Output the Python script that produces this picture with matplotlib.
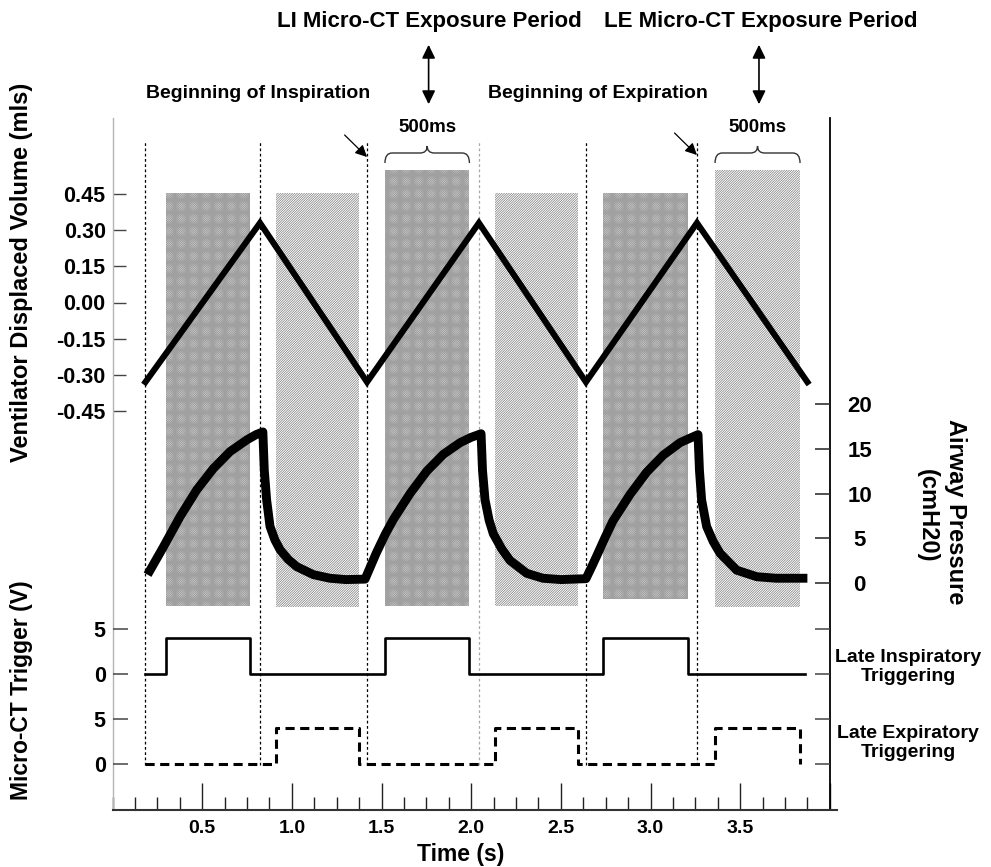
import matplotlib
matplotlib.use("Agg")
import matplotlib.pyplot as plt
from matplotlib import transforms
from matplotlib.patches import FancyArrowPatch, PathPatch
from matplotlib.path import Path
from matplotlib.ticker import FixedLocator, MultipleLocator

plt.rcParams['font.family'] = ['Liberation Sans', 'DejaVu Sans']
plt.rcParams['font.weight'] = 'bold'
plt.rcParams['hatch.linewidth'] = 0.5

# ---------------------------------------------------------------- data
# ventilator phase boundaries (s): alternating start of inspiration / expiration
phase_times = [0.183, 0.822, 1.419, 2.043, 2.640, 3.259]
volume_times = [0.183, 0.822, 1.419, 2.043, 2.640, 3.259, 3.875]
volume_values = [-0.33, 0.33, -0.33, 0.33, -0.33, 0.33, -0.33]   # mls

# micro-CT exposure windows (s)
li_windows = [(0.296, 0.766), (1.519, 1.990), (2.733, 3.210)]
le_windows = [(0.911, 1.376), (2.133, 2.597), (3.360, 3.834)]
trigger_high = 4.0          # V
trigger_start = 0.183       # s
li_trigger_end = 3.862      # s

# airway pressure trace
pressure_t = [0.195, 0.283, 0.376, 0.469, 0.562, 0.655, 0.748, 0.800, 0.838,
              0.846, 0.859, 0.878, 0.905, 0.934, 0.980, 1.027, 1.120, 1.212, 1.300, 1.408,
              1.470, 1.520, 1.566, 1.659, 1.752, 1.845, 1.938, 2.000, 2.055,
              2.063, 2.077, 2.100, 2.123, 2.170, 2.216, 2.310, 2.400, 2.500, 2.640,
              2.670, 2.700, 2.745, 2.790, 2.886, 2.979, 3.071, 3.165, 3.220, 3.265,
              3.273, 3.285, 3.313, 3.350, 3.388, 3.481, 3.593, 3.700, 3.875]
pressure_p = [0.9, 4.0, 7.4, 10.4, 12.8, 14.7, 16.0, 16.6, 16.9,
              12.6, 9.3, 6.3, 4.8, 3.7, 2.6, 1.8, 0.9, 0.5, 0.35, 0.4,
              3.3, 5.4, 7.1, 10.0, 12.5, 14.4, 15.7, 16.3, 16.7,
              12.6, 9.3, 7.0, 5.5, 3.8, 2.5, 1.05, 0.5, 0.35, 0.45,
              1.7, 3.0, 5.0, 6.9, 9.9, 12.4, 14.3, 15.7, 16.2, 16.6,
              12.6, 9.3, 6.3, 4.6, 3.3, 1.4, 0.67, 0.5, 0.5]

volume_ticks = [-0.45, -0.30, -0.15, 0.00, 0.15, 0.30, 0.45]
pressure_ticks = [0, 5, 10, 15, 20]
trigger_ticks = [0, 5]
time_major = [0.5, 1.0, 1.5, 2.0, 2.5, 3.0, 3.5, 4.0]
time_labels = ['0.5', '1.0', '1.5', '2.0', '2.5', '3.0', '3.5', '']

# ---------------------------------------------------------------- layout
W, H = 991, 867
AX_L, AX_R, AX_T, AX_B = 112.6, 829.8, 118, 810

fig = plt.figure(figsize=(W / 100, H / 100), dpi=100)


def frect(x0, y0, x1, y1):
    return [x0 / W, 1 - y1 / H, (x1 - x0) / W, (y1 - y0) / H]


def fy(py):
    return 1 - py / H


def afrac(py):
    return (AX_B - py) / (AX_B - AX_T)


def set_scale(a, zero_px, px_per_unit):
    a.set_ylim((zero_px - AX_B) / px_per_unit, (zero_px - AX_T) / px_per_unit)


ax = fig.add_axes(frect(AX_L, AX_T, AX_R, AX_B))
ax.set_xlim(0, 4.0)
set_scale(ax, 302.5, 241.1)

ax_p = ax.twinx()
set_scale(ax_p, 582.7, 8.92)

ax_t = ax.twinx()
set_scale(ax_t, 674.0, 8.94)
le_offset = -(764.0 - 674.0) / 8.94

for a in (ax_p, ax_t):
    for s in a.spines.values():
        s.set_visible(False)
ax.spines['top'].set_visible(False)
ax.spines['bottom'].set_visible(False)
ax.spines['left'].set_color('#b4b4b4')
ax.spines['left'].set_linewidth(1.0)
ax.spines['right'].set_color('black')
ax.spines['right'].set_linewidth(1.3)

# exposure windows
li_tops, li_bots = [193, 170, 193], [606, 606, 599]
le_tops, le_bots = [193, 193, 170], [607, 606, 607]
for (t0, t1), top, bot in zip(li_windows, li_tops, li_bots):
    ax.axvspan(t0, t1, ymin=afrac(bot), ymax=afrac(top), facecolor='white',
               edgecolor='#a0a0a0', hatch='x' * 18, linewidth=0, zorder=1)
for (t0, t1), top, bot in zip(le_windows, le_tops, le_bots):
    ax.axvspan(t0, t1, ymin=afrac(bot), ymax=afrac(top), facecolor='white',
               edgecolor='#7c7c7c', hatch='/' * 14, linewidth=0, zorder=1)

# phase boundary markers
line_colors = ['black', 'black', 'black', '#a8a8a8', 'black', 'black']
for t, c in zip(phase_times, line_colors):
    ax.axvline(t, ymin=afrac(765), ymax=afrac(141), color=c, lw=0.9,
               linestyle=(0, (2.2, 2.0)), zorder=2)

# ventilator volume
ax.plot(volume_times, volume_values, color='black', lw=4.4,
        solid_joinstyle='miter', zorder=4)

# airway pressure
ax_p.plot(pressure_t, pressure_p, color='black', lw=6.4,
          solid_joinstyle='round', solid_capstyle='butt', zorder=4)


# trigger signals
def step_series(windows, start, end):
    ts, vs = [start], [0.0]
    for t0, t1 in windows:
        ts += [t0, t1]
        vs += [trigger_high, 0.0]
    if end > ts[-1]:
        ts.append(end)
        vs.append(0.0)
    return ts, vs


li_t, li_v = step_series(li_windows, trigger_start, li_trigger_end)
le_t, le_v = step_series(le_windows, trigger_start, le_windows[-1][1])
ax_t.plot(li_t, li_v, drawstyle='steps-post', color='black', lw=1.9)
ax_t.plot(le_t, [v + le_offset for v in le_v], drawstyle='steps-post',
          color='black', lw=2.2, linestyle=(0, (3.0, 1.8)))

# ---------------------------------------------------------------- axes ticks
ax.yaxis.set_major_locator(FixedLocator(volume_ticks))
ax.set_yticklabels(['%.2f' % v for v in volume_ticks])
ax.tick_params(axis='y', which='both', left=True, right=False, direction='in',
               length=9.5, width=1.0, color='#444444', labelsize=15.5, pad=5)

ax.xaxis.set_major_locator(FixedLocator(time_major))
ax.set_xticklabels(time_labels)
ax.xaxis.set_minor_locator(MultipleLocator(0.125))
ax.tick_params(axis='x', which='major', direction='in', length=19.5, width=1.0,
               color='#222222', labelsize=14, pad=7)
ax.tick_params(axis='x', which='minor', direction='in', length=9.5, width=1.0,
               color='#222222')
ax.plot([0, 4.04], [0, 0], transform=transforms.blended_transform_factory(ax.transData, ax.transAxes),
        color='#333333', lw=1.5, clip_on=False, zorder=5)

ax_p.yaxis.set_major_locator(FixedLocator(pressure_ticks))
ax_p.tick_params(axis='y', right=True, left=False, direction='in', length=11,
                 width=1.2, color='#333333', labelsize=16, pad=21.5)
for lab in ax_p.get_yticklabels():
    lab.set_horizontalalignment('center')

tick_pos = [trigger_ticks[0], trigger_ticks[1],
            trigger_ticks[0] + le_offset, trigger_ticks[1] + le_offset]
ax_t.yaxis.set_major_locator(FixedLocator(tick_pos))
ax_t.set_yticklabels(['0', '5', '0', '5'])
ax_t.yaxis.set_ticks_position('both')
ax_t.tick_params(axis='y', direction='in', length=10.5, width=1.1, color='#444444',
                 labelleft=True, labelright=False, labelsize=15.5, pad=5)

# ---------------------------------------------------------------- annotations
bt = transforms.blended_transform_factory(ax.transData, fig.transFigure)
li_mid = sum(li_windows[1]) / 2
le_mid = sum(le_windows[2]) / 2

ax.text(li_mid + 0.015, fy(22), 'LI Micro-CT Exposure Period', transform=bt,
        ha='center', va='center', fontsize=16)
ax.text(le_mid + 0.02, fy(22), 'LE Micro-CT Exposure Period', transform=bt,
        ha='center', va='center', fontsize=16)
for m in (li_mid, le_mid):
    fig.add_artist(FancyArrowPatch((m + 0.008, fy(42)), (m + 0.008, fy(107)), transform=bt,
                                   arrowstyle='<|-|>,head_length=0.45,head_width=0.22',
                                   mutation_scale=18, color='black', lw=1.2))
    ax.text(m, fy(128), '500ms', transform=bt, ha='center', va='center', fontsize=13.5)

fig.text(258 / W, fy(93), 'Beginning of Inspiration', ha='center', va='center', fontsize=14)
fig.text(598 / W, fy(93), 'Beginning of Expiration', ha='center', va='center', fontsize=14)


def brace(x0, x1, y_end, y_bar, y_tip, d=0.04):
    mid = (x0 + x1) / 2
    verts = [(x0, fy(y_end)), (x0, fy(y_bar)), (x0 + d, fy(y_bar)),
             (mid - d, fy(y_bar)), (mid, fy(y_bar)), (mid, fy(y_tip)),
             (mid, fy(y_bar)), (mid + d, fy(y_bar)),
             (x1 - d, fy(y_bar)), (x1, fy(y_bar)), (x1, fy(y_end))]
    codes = [Path.MOVETO, Path.CURVE3, Path.CURVE3, Path.LINETO, Path.CURVE3, Path.CURVE3,
             Path.CURVE3, Path.CURVE3, Path.LINETO, Path.CURVE3, Path.CURVE3]
    fig.add_artist(PathPatch(Path(verts, codes), transform=bt, facecolor='none',
                             edgecolor='#333333', lw=1.0))


brace(li_windows[1][0], li_windows[1][1], 163, 153, 146)
brace(le_windows[2][0], le_windows[2][1], 163, 153, 146)

# arrows to the beginning-of-inspiration / beginning-of-expiration markers
for t, y0, y1 in ((phase_times[2], 135, 157), (phase_times[5], 133, 155)):
    fig.add_artist(FancyArrowPatch((t - 0.125, fy(y0)), (t, fy(y1)), transform=bt,
                                   arrowstyle='-|>,head_length=0.5,head_width=0.25',
                                   mutation_scale=14, color='black', lw=0.9,
                                   shrinkA=0, shrinkB=0))

# axis titles
fig.text(22 / W, fy(272), 'Ventilator Displaced Volume (mls)', rotation=90,
         ha='center', va='center', fontsize=17)
fig.text(22 / W, fy(690), 'Micro-CT Trigger (V)', rotation=90,
         ha='center', va='center', fontsize=16.5)
fig.text(955 / W, fy(512), 'Airway Pressure', rotation=-90,
         ha='center', va='center', fontsize=17)
fig.text(927 / W, fy(516), '(cmH20)', rotation=-90,
         ha='center', va='center', fontsize=17)
fig.text(908 / W, fy(667), 'Late Inspiratory\nTriggering', ha='center', va='center',
         fontsize=14, linespacing=1.15)
fig.text(908 / W, fy(743), 'Late Expiratory\nTriggering', ha='center', va='center',
         fontsize=14, linespacing=1.15)
fig.text(461 / W, fy(854), 'Time (s)', ha='center', va='center', fontsize=16.5)

fig.savefig('out.png', dpi=100, facecolor='white')
